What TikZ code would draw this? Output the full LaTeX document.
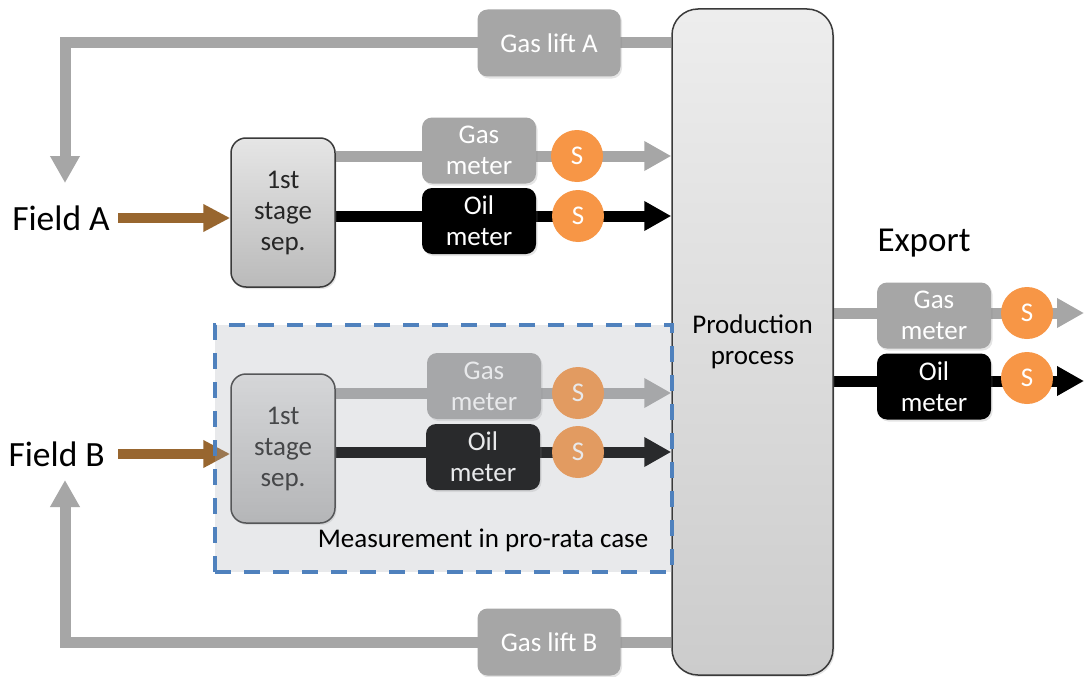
\documentclass[tikz,border=0pt]{standalone}
\usepackage{fontspec}
\setmainfont{Carlito}
\usetikzlibrary{arrows.meta,shadows,backgrounds,calc}

\definecolor{gasgray}{HTML}{A6A6A6}
\definecolor{feedbrown}{HTML}{98662F}
\definecolor{sampleorange}{HTML}{F79646}
\definecolor{frameblue}{HTML}{4F81BD}
\definecolor{boxedge}{HTML}{3A3A3A}
\definecolor{veil}{RGB}{167,171,179}

\tikzset{
  txtbase/.style={font=\fontsize{27}{31}\selectfont, align=center, inner sep=0pt},
  softshadow/.style={drop shadow={opacity=0.2, shadow xshift=1.5pt, shadow yshift=-2pt}},
  procbox/.style={txtbase, softshadow, draw=boxedge, line width=1.5pt, rounded corners=26pt,
    top color=black!7, bottom color=black!20, minimum width=161pt, minimum height=666pt},
  sepbox/.style={txtbase, softshadow, draw=boxedge, line width=1.5pt, rounded corners=15pt,
    top color=black!10, bottom color=black!27, text=black!85,
    minimum width=104pt, minimum height=149pt},
  gasmeter/.style={txtbase, softshadow, fill=gasgray, text=white, rounded corners=10pt,
    minimum width=114pt, minimum height=66pt},
  oilmeter/.style={gasmeter, fill=black},
  liftbox/.style={gasmeter, font=\fontsize{27}{31}\selectfont,
    minimum width=143pt, minimum height=67pt},
  sampler/.style={txtbase, circle, fill=sampleorange, text=white,
    font=\fontsize{27}{31}\selectfont, minimum size=52pt},
  gasflow/.style={line width=11pt, draw=gasgray, -{Triangle[length=27pt,width=28pt]}},
  oilflow/.style={gasflow, draw=black},
  feedflow/.style={line width=10pt, draw=feedbrown, -{Triangle[length=27pt,width=26pt]}},
  bigtext/.style={font=\fontsize{35.5}{40}\selectfont, inner sep=0pt},
  prorata/.style={draw=frameblue, line width=4pt, dash pattern=on 16pt off 13pt,
    fill=veil, fill opacity=0.25, inner sep=0pt, minimum width=457pt, minimum height=247pt}
}

\begin{document}
\begin{tikzpicture}[x=1pt, y=-1pt]
  \useasboundingbox (0,0) rectangle (1084,677);
  \begin{pgfonlayer}{background}
    \fill[white] (0,0) rectangle (1084,677);
  \end{pgfonlayer}

  % central plant
  \node[procbox] (prod) at (752.5,342) {Production\\process};

  % gas lift return boxes
  \node[liftbox] (liftA) at (549,43) {Gas lift A};
  \node[liftbox] (liftB) at (549,642) {Gas lift B};

  % separators
  \node[sepbox] (sepA) at (283,212.5) {1st\\stage\\sep.};
  \node[sepbox] (sepB) at (283,448.5) {1st\\stage\\sep.};

  % field meters and samplers
  \node[gasmeter] (gmA) at (479,150.5) {Gas\\meter};
  \node[oilmeter] (omA) at (479,221) {Oil\\meter};
  \node[sampler] (sgA) at (577,156) {S};
  \node[sampler] (soA) at (578,216) {S};

  \node[gasmeter] (gmB) at (484,386) {Gas\\meter};
  \node[oilmeter] (omB) at (483,457) {Oil\\meter};
  \node[sampler] (sgB) at (578,393) {S};
  \node[sampler] (soB) at (578,452) {S};

  % export meters and samplers
  \node[bigtext, font=\fontsize{35}{40}\selectfont] (export) at (924,243) {Export};
  \node[gasmeter] (gmE) at (934,315.5) {Gas\\meter};
  \node[oilmeter] (omE) at (934,386.5) {Oil\\meter};
  \node[sampler] (sgE) at (1027,313) {S};
  \node[sampler] (soE) at (1027,378) {S};

  % field labels
  \node[bigtext, anchor=east] (fieldA) at (110,218) {Field A};
  \node[bigtext, anchor=east] (fieldB) at (105,454) {Field B};

  % free ends of connectors
  \coordinate (tipA) at (65,183);
  \coordinate (tipB) at (65,480);
  \coordinate (outG) at (1084,313);
  \coordinate (outO) at (1084,381);

  \begin{pgfonlayer}{background}
    % gas lift
    \draw[gasflow] (prod.west |- liftA) -| (tipA);
    \draw[gasflow] (prod.west |- liftB) -| (tipB);
    % well streams into separators
    \draw[feedflow] ([xshift=8pt]fieldA.east) -- (sepA.west |- fieldA.east);
    \draw[feedflow] ([xshift=13pt]fieldB.east) -- (sepB.west |- fieldB.east);
    % separator outlets to process
    \draw[gasflow] (sepA.east |- sgA) -- (prod.west |- sgA);
    \draw[oilflow] (sepA.east |- soA) -- (prod.west |- soA);
    \draw[gasflow] (sepB.east |- sgB) -- (prod.west |- sgB);
    \draw[oilflow] (sepB.east |- soB) -- (prod.west |- soB);
    % export
    \draw[gasflow] (prod.east |- sgE) -- (outG);
    \draw[oilflow] (prod.east |- outO) -- (outO);
  \end{pgfonlayer}

  % pro-rata measurement zone
  \node[prorata] (zone) at (443.5,448.5) {};
  \node[txtbase] (zonecap) at (483,540) {Measurement in pro-rata case};
\end{tikzpicture}
\end{document}
